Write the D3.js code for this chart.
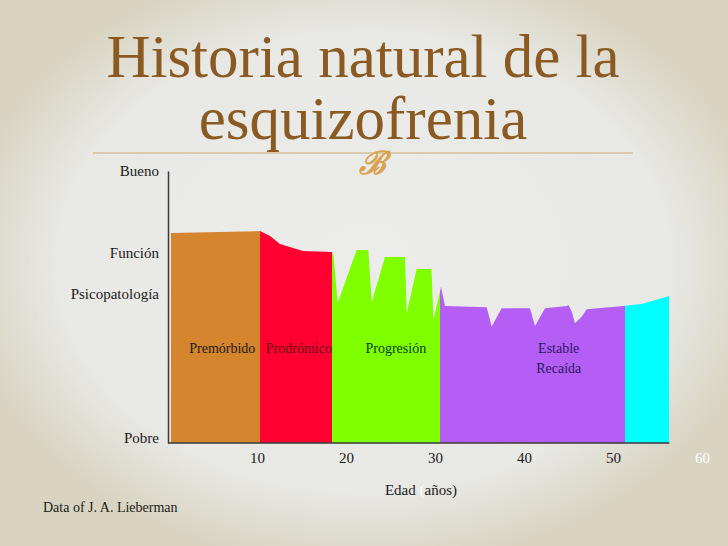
<!DOCTYPE html>
<html>
<head>
<meta charset="utf-8">
<script src="https://cdn.jsdelivr.net/npm/d3@7"></script>
<style>
body{margin:0;}
svg text{font-family:"Liberation Serif","Times New Roman",serif;}
</style>
</head>
<body>
<div id="chart-area"></div>
<script>
// functioning curve (age in years, level 0 = Pobre, 100 = Bueno)
var ages=[0.34,10.34,11.46,12.58,15.17,18.43,18.6,19.07,21.2,22.51,22.89,24.38,26.63,26.82,27.94,29.6,29.83,30.67,31.12,
    35.81,36.37,37.49,40.67,41.24,42.36,44.8,44.98,45.36,45.73,46.48,47.04,51.16,53.22,56.33];
var levels=[77.2,77.9,76.1,73.2,70.6,70.2,68.8,51.5,71.0,71.0,51.8,68.4,68.4,47.8,64.0,64.0,45.2,57.4,50.4,
    49.9,42.8,49.5,49.5,43.0,49.5,50.4,50.7,48.3,44.0,46.4,49.2,50.4,51.1,54.0];

// phases of the illness
var phaseStart=[0.34,10.34,18.43,30.56,51.35];
var phaseEnd=[10.34,18.43,30.56,51.35,56.33];
var phaseLabels=[["Premórbido"],["Prodrómico"],["Progresión"],["Estable","Recaída"],[]];
var labelAges=[6.1,14.7,25.6,43.9,0];
var labelLevel=33;

var phaseColors=["#d6852f","#ff0030","#80ff00","#b45ef6","#00ffff"];
var labelColors=["#1a1a1a","#6e0a14","#0d3d05","#2e1660","#000"];

// axis labels
var yLevels=[100,70,55,2];
var yNames=["Bueno","Función","Psicopatología","Pobre"];
var xTicks=[10,20,30,40,50,60];

var width=728, height=546;

var svg=d3.select("#chart-area").append("svg")
    .attr("width",width)
    .attr("height",height);

var defs=svg.append("defs");
var bg=defs.append("radialGradient")
    .attr("id","bg")
    .attr("cx","50%").attr("cy","48%").attr("r","56%");
bg.append("stop").attr("offset","0%").attr("stop-color","#ececeb");
bg.append("stop").attr("offset","75%").attr("stop-color","#e8e8e5");
bg.append("stop").attr("offset","100%").attr("stop-color","#d8d4c0");

svg.append("rect")
    .attr("width",width)
    .attr("height",height)
    .attr("fill","url(#bg)");

// title
var title=svg.append("text")
    .attr("x",363)
    .attr("text-anchor","middle")
    .attr("font-size","61px")
    .attr("fill","#8a5a22");
title.append("tspan").attr("x",363).attr("y",77).text("Historia natural de la");
title.append("tspan").attr("x",363).attr("y",139).text("esquizofrenia");

svg.append("line")
    .attr("x1",93).attr("x2",633)
    .attr("y1",153).attr("y2",153)
    .attr("stroke","#d8bf9a")
    .attr("stroke-width",1.5);

// ornament under the title
svg.append("text")
    .attr("x",372)
    .attr("y",174)
    .attr("text-anchor","middle")
    .attr("font-size","32px")
    .attr("font-weight","bold")
    .attr("font-style","italic")
    .style("font-family","'DejaVu Serif',serif")
    .attr("fill","#d9a24f")
    .text("ℬ");

var x=d3.scaleLinear().domain([0,60]).range([168,702]);
var y=d3.scaleLinear().domain([0,100]).range([443,171]);

var points=ages.map((a,i)=>{return [a,levels[i]];});

var area=d3.area()
    .x((d)=>{return x(d[0]);})
    .y0(y(0))
    .y1((d)=>{return y(d[1]);});

var g=svg.append("g");

phaseStart.forEach((s,i)=>{
    defs.append("clipPath")
        .attr("id","clip"+i)
        .append("rect")
        .attr("x",x(s))
        .attr("width",x(phaseEnd[i])-x(s))
        .attr("y",0)
        .attr("height",height);

    g.append("path")
        .datum(points)
        .attr("d",area)
        .attr("fill",phaseColors[i])
        .attr("clip-path","url(#clip"+i+")");

    phaseLabels[i].forEach((t,j)=>{
        g.append("text")
            .attr("x",x(labelAges[i]))
            .attr("y",y(labelLevel)+j*20)
            .attr("text-anchor","middle")
            .attr("font-size","14px")
            .attr("fill",labelColors[i])
            .text(t);
    });
});

// axes
var leftAxis=d3.axisLeft(y)
    .tickValues(yLevels)
    .tickFormat((d,i)=>{return yNames[i];})
    .tickSize(0)
    .tickPadding(9);

var yAxisGroup=svg.append("g")
    .attr("transform","translate("+x(0)+",0)")
    .call(leftAxis);
yAxisGroup.attr("font-family",null).attr("font-size","15px");
yAxisGroup.select(".domain").attr("stroke","#3a3a3a").attr("stroke-width",1.5);
yAxisGroup.selectAll("text").attr("fill","#1a1a1a");

var bottomAxis=d3.axisBottom(x)
    .tickValues(xTicks)
    .tickSize(0)
    .tickPadding(9);

var xAxisGroup=svg.append("g")
    .attr("transform","translate(0,"+y(0)+")")
    .call(bottomAxis);
xAxisGroup.attr("font-family",null).attr("font-size","15px");
xAxisGroup.select(".domain").remove();
xAxisGroup.selectAll("text")
    .attr("fill",(d)=>{return d==60 ? "#ffffff" : "#1a1a1a";});

xAxisGroup.append("line")
    .attr("x1",x(0))
    .attr("x2",x(phaseEnd[phaseEnd.length-1]))
    .attr("stroke","#3a3a3a")
    .attr("stroke-width",1.5);

var xLabel=svg.append("text")
    .attr("x",421)
    .attr("y",495)
    .attr("text-anchor","middle")
    .attr("font-size","15px")
    .attr("fill","#1a1a1a");
xLabel.append("tspan").text("Edad ");
xLabel.append("tspan").attr("fill","#ffffff").text("(");
xLabel.append("tspan").text("años)");

svg.append("text")
    .attr("x",43)
    .attr("y",512)
    .attr("font-size","14px")
    .attr("fill","#1a1a1a")
    .text("Data of J. A. Lieberman");
</script>
</body>
</html>
